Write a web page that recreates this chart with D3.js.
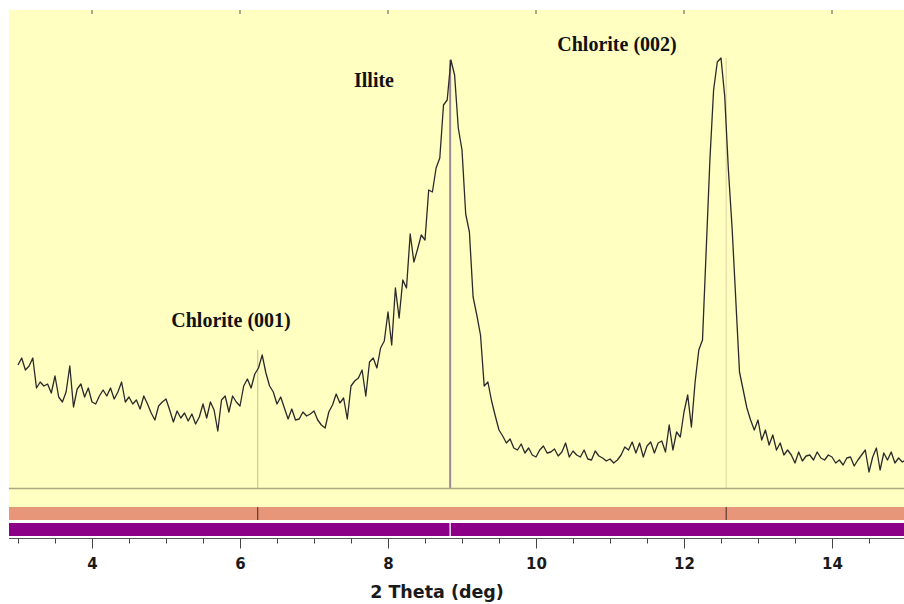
<!DOCTYPE html>
<html>
<head>
<meta charset="utf-8">
<script src="https://cdn.jsdelivr.net/npm/d3@7"></script>
<style>
  body { margin: 0; background: #ffffff; }
  svg { display: block; }
</style>
</head>
<body>
<div id="charts"></div>
<script>
// scan settings (2 theta, degrees)
const thetaStart = 3.0;
const thetaStep = 0.05;

// counts, one per step
const counts = [
  123, 130, 118, 122, 130, 100, 106, 102, 104, 95,
  112, 91, 86, 96, 122, 81, 99, 104, 91, 100,
  86, 84, 92, 98, 92, 100, 89, 96, 106, 86,
  91, 84, 88, 79, 92, 84, 75, 68, 82, 86,
  89, 78, 66, 77, 70, 75, 67, 74, 64, 71,
  84, 70, 86, 78, 57, 88, 92, 76, 92, 86,
  82, 102, 109, 100, 114, 120, 133, 115, 102, 96,
  84, 91, 80, 69, 79, 68, 69, 76, 72, 74,
  77, 68, 63, 60, 76, 83, 94, 85, 90, 69,
  102, 107, 110, 118, 92, 126, 130, 120, 140, 147,
  176, 143, 200, 170, 208, 200, 254, 226, 239, 253,
  248, 298, 296, 320, 330, 383, 388, 428, 413, 360,
  338, 274, 256, 191, 173, 153, 102, 106, 87, 72,
  58, 52, 45, 49, 40, 38, 44, 35, 40, 33,
  31, 38, 42, 35, 36, 39, 32, 36, 45, 31,
  37, 33, 31, 38, 29, 28, 37, 32, 30, 27,
  29, 25, 28, 33, 41, 38, 46, 35, 45, 31,
  42, 46, 35, 45, 47, 36, 63, 38, 56, 51,
  76, 93, 61, 106, 138, 148, 238, 328, 398, 426,
  430, 392, 318, 260, 188, 116, 98, 80, 68, 58,
  68, 48, 58, 43, 53, 38, 45, 33, 38, 33,
  25, 36, 27, 32, 33, 28, 36, 30, 28, 33,
  31, 25, 28, 23, 30, 31, 22, 28, 33, 38,
  16, 31, 40, 18, 35, 28, 36, 25, 30, 26,
  28
];

// reference phases (stick pattern)
const phaseNames = ["Chlorite (001)", "Illite", "Chlorite (002)"];
const phasePositions = [6.24, 8.84, 12.57];
const phaseHeights = [138, 428, 430];
const phaseKinds = ["chlorite", "illite", "chlorite"];

const majorTicks = [4, 6, 8, 10, 12, 14];
const axisTitle = "2 Theta (deg)";

window.onload = init;

//draws the pattern, reference sticks and the axis
function init()
{
    const width = 904;
    const height = 604;
    const svg = d3.select('#charts').append('svg').attr('width', width).attr('height', height);

    const panelLeft = 9;
    const panelTop = 10;
    const baseY = 488;

    const x = d3.scaleLinear().domain([3, 15]).range([18, 906]);
    const y = d3.scaleLinear().domain([0, 478]).range([baseY, panelTop]);

    const data = counts.map((c, i) => ({theta: thetaStart + i * thetaStep, count: c}));

    // background panel
    svg.append('rect').attr('x', panelLeft).attr('y', panelTop)
        .attr('width', width - panelLeft).attr('height', 507 - panelTop)
        .attr('fill', '#ffffc2');

    // top tick marks
    svg.append('g').selectAll('line').data(majorTicks).enter().append('line')
        .attr('x1', d => x(d)).attr('x2', d => x(d))
        .attr('y1', panelTop).attr('y2', panelTop + 4)
        .attr('stroke', '#555').attr('stroke-width', 1);

    // reference sticks in the pattern area
    const sticks = svg.append('g');
    sticks.selectAll('line').data(phasePositions).enter().append('line')
        .attr('x1', d => x(d)).attr('x2', d => x(d))
        .attr('y1', (d, i) => y(phaseHeights[i])).attr('y2', baseY)
        .attr('stroke', (d, i) => phaseKinds[i] == "illite" ? '#a0869a' : (i == 0 ? '#cdb98e' : '#ddd3a0'))
        .attr('stroke-width', (d, i) => phaseKinds[i] == "illite" ? 2 : 1);

    // measured pattern
    const line = d3.line().x(d => x(d.theta)).y(d => y(d.count));
    svg.append('path').datum(data).attr('d', line)
        .attr('fill', 'none').attr('stroke', '#2a2a2a').attr('stroke-width', 1.3)
        .attr('stroke-linejoin', 'round');

    // baseline
    svg.append('line').attr('x1', panelLeft).attr('x2', width)
        .attr('y1', baseY + 0.5).attr('y2', baseY + 0.5)
        .attr('stroke', '#aaa982').attr('stroke-width', 1.5);

    // phase labels
    const labelPos = [[231, 327], [374, 87], [617, 51]];
    svg.append('g').selectAll('text').data(phaseNames).enter().append('text')
        .attr('x', (d, i) => labelPos[i][0]).attr('y', (d, i) => labelPos[i][1])
        .attr('text-anchor', 'middle')
        .style('font-family', '"Liberation Serif", "Times New Roman", serif')
        .style('font-weight', 'bold').style('font-size', '20px').style('fill', '#111')
        .text(d => d);

    // chlorite bar
    svg.append('rect').attr('x', panelLeft).attr('y', 507)
        .attr('width', width - panelLeft).attr('height', 13).attr('fill', '#e8967a');
    svg.append('g').selectAll('line').data(phasePositions.filter((d, i) => phaseKinds[i] == "chlorite"))
        .enter().append('line')
        .attr('x1', d => x(d)).attr('x2', d => x(d))
        .attr('y1', 507).attr('y2', 520)
        .attr('stroke', '#3a2a20').attr('stroke-width', 1);

    // illite bar
    svg.append('rect').attr('x', panelLeft).attr('y', 523)
        .attr('width', width - panelLeft).attr('height', 13).attr('fill', '#8c0088');
    svg.append('g').selectAll('line').data(phasePositions.filter((d, i) => phaseKinds[i] == "illite"))
        .enter().append('line')
        .attr('x1', d => x(d)).attr('x2', d => x(d))
        .attr('y1', 523).attr('y2', 536)
        .attr('stroke', '#f0d8f0').attr('stroke-width', 1.5);

    // bottom axis
    const axis = d3.axisBottom(x)
        .tickValues(d3.range(3, 15.01, 0.5))
        .tickSize(5)
        .tickFormat(d => majorTicks.includes(d) ? d : "");
    const ax = svg.append('g').attr('transform', 'translate(0,538.5)').call(axis);
    ax.select('.domain').attr('stroke', '#555').attr('d', 'M' + panelLeft + ',0H' + width);
    ax.selectAll('.tick line').attr('stroke', '#444')
        .attr('y2', d => majorTicks.includes(d) ? 10 : 5);
    ax.selectAll('.tick text').attr('y', 20)
        .style('font-family', '"DejaVu Sans", Verdana, sans-serif')
        .style('font-weight', 'bold').style('font-size', '15px').style('fill', '#1a1a1a');

    svg.append('text').attr('x', 437).attr('y', 598).attr('text-anchor', 'middle')
        .style('font-family', '"DejaVu Sans", Verdana, sans-serif')
        .style('font-weight', 'bold').style('font-size', '17.5px').style('fill', '#1a1a1a')
        .text(axisTitle);
}
</script>
</body>
</html>
